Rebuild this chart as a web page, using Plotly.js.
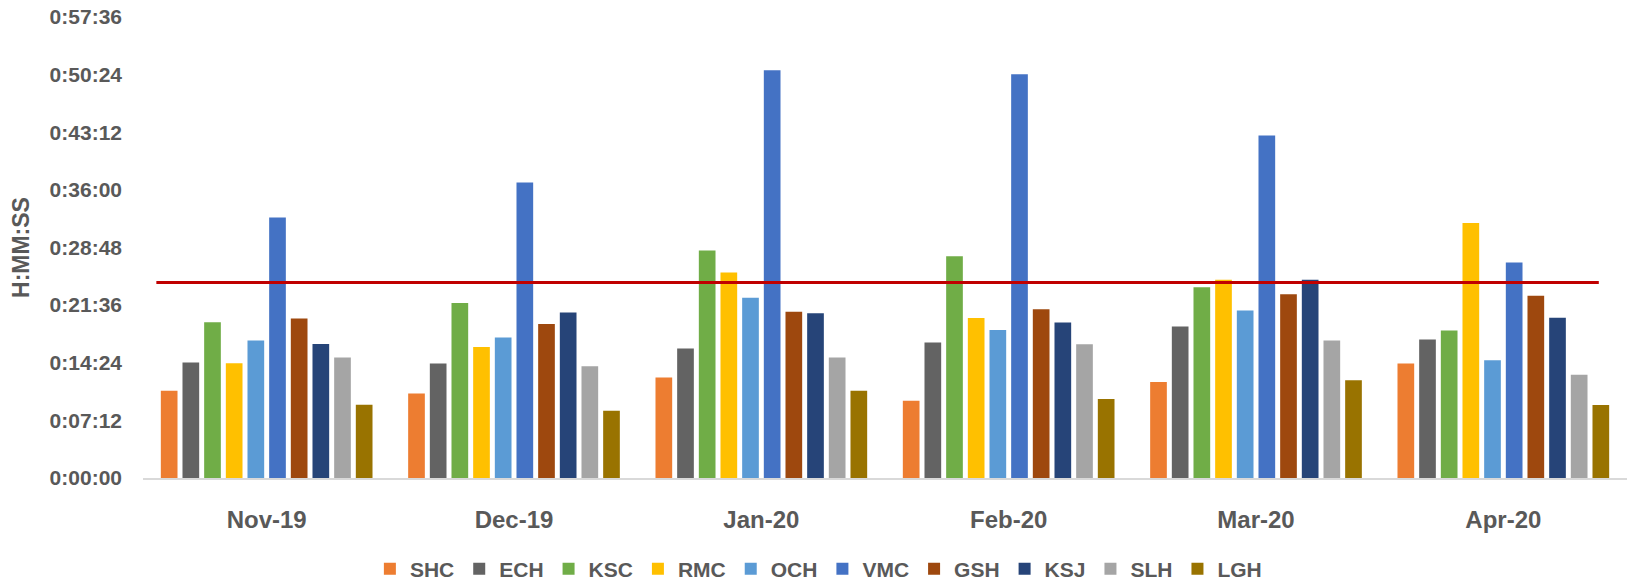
<!DOCTYPE html>
<html>
<head>
<meta charset="utf-8">
<script src="https://cdn.plot.ly/plotly-3.0.1.min.js"></script>
<style>html,body{margin:0;padding:0;background:#fff;}#chart{width:1627px;height:585px;}</style>
</head>
<body>
<div id="chart"></div>
<script>
// Categories
const months = ['Nov-19', 'Dec-19', 'Jan-20', 'Feb-20', 'Mar-20', 'Apr-20'];
// Series names
const seriesNames = ['SHC', 'ECH', 'KSC', 'RMC', 'OCH', 'VMC', 'GSH', 'KSJ', 'SLH', 'LGH'];
// Values in seconds
const SHC = [655, 633, 753, 580, 720, 858];
const ECH = [865, 858, 970, 1015, 1135, 1038];
const KSC = [1167, 1312, 1705, 1662, 1430, 1105];
const RMC = [860, 982, 1540, 1200, 1487, 1912];
const OCH = [1030, 1053, 1352, 1110, 1255, 882];
const VMC = [1952, 2215, 3057, 3027, 2567, 1615];
const GSH = [1195, 1155, 1247, 1265, 1377, 1367];
const KSJ = [1005, 1240, 1235, 1165, 1487, 1202];
const SLH = [903, 837, 903, 1002, 1030, 774];
const LGH = [550, 505, 655, 592, 732, 548];
// Reference (target) line value in seconds
const targetLine = 1465;
// Y tick values (seconds) and labels
const yTickVals = [0, 432, 864, 1296, 1728, 2160, 2592, 3024, 3456];
const yTickText = ['0:00:00', '0:07:12', '0:14:24', '0:21:36', '0:28:48', '0:36:00', '0:43:12', '0:50:24', '0:57:36'];

const seriesValues = [SHC, ECH, KSC, RMC, OCH, VMC, GSH, KSJ, SLH, LGH];
const colors = ['#ED7D31', '#636363', '#70AD47', '#FFC000', '#5B9BD5', '#4472C4', '#9E480E', '#264478', '#A5A5A5', '#997300'];

const traces = seriesNames.map((name, i) => ({
  type: 'bar',
  name: name,
  x: months,
  y: seriesValues[i],
  marker: {color: colors[i]},
  hoverinfo: 'skip'
}));

const layout = {
  width: 1627,
  height: 585,
  margin: {l: 143, r: 0, t: 17, b: 107, pad: 0, autoexpand: false},
  paper_bgcolor: '#ffffff',
  plot_bgcolor: '#ffffff',
  barmode: 'group',
  bargap: 0.124,
  bargroupgap: 0.23,
  font: {family: 'Liberation Sans, Arial, sans-serif', color: '#595959'},
  xaxis: {
    type: 'category',
    showline: true,
    linecolor: '#D9D9D9',
    linewidth: 2,
    showgrid: false,
    zeroline: false,
    ticks: '',
    ticklabelstandoff: 19,
    tickfont: {size: 24, color: '#595959', family: 'Liberation Sans, Arial, sans-serif', weight: 'bold'}
  },
  yaxis: {
    range: [0, 3456],
    tickvals: yTickVals,
    ticktext: yTickText,
    showline: false,
    showgrid: false,
    zeroline: false,
    ticks: '',
    ticklabelstandoff: 20,
    tickfont: {size: 21, color: '#595959', family: 'Liberation Sans, Arial, sans-serif', weight: 'bold'},
    title: {text: 'H:MM:SS', standoff: 13, font: {size: 23, color: '#595959', family: 'Liberation Sans, Arial, sans-serif', weight: 'bold'}}
  },
  showlegend: true,
  legend: {
    orientation: 'h',
    xref: 'container',
    yref: 'container',
    x: 0.503,
    xanchor: 'center',
    y: 0.027,
    yanchor: 'middle',
    font: {size: 21, color: '#595959', family: 'Liberation Sans, Arial, sans-serif', weight: 'bold'},
    itemwidth: 30,
    traceorder: 'normal'
  },
  shapes: [{
    type: 'line',
    xref: 'paper',
    yref: 'y',
    x0: 0.009,
    x1: 0.981,
    y0: targetLine,
    y1: targetLine,
    line: {color: '#C00000', width: 3}
  }]
};

Plotly.newPlot('chart', traces, layout, {staticPlot: true, displayModeBar: false});
</script>
</body>
</html>
